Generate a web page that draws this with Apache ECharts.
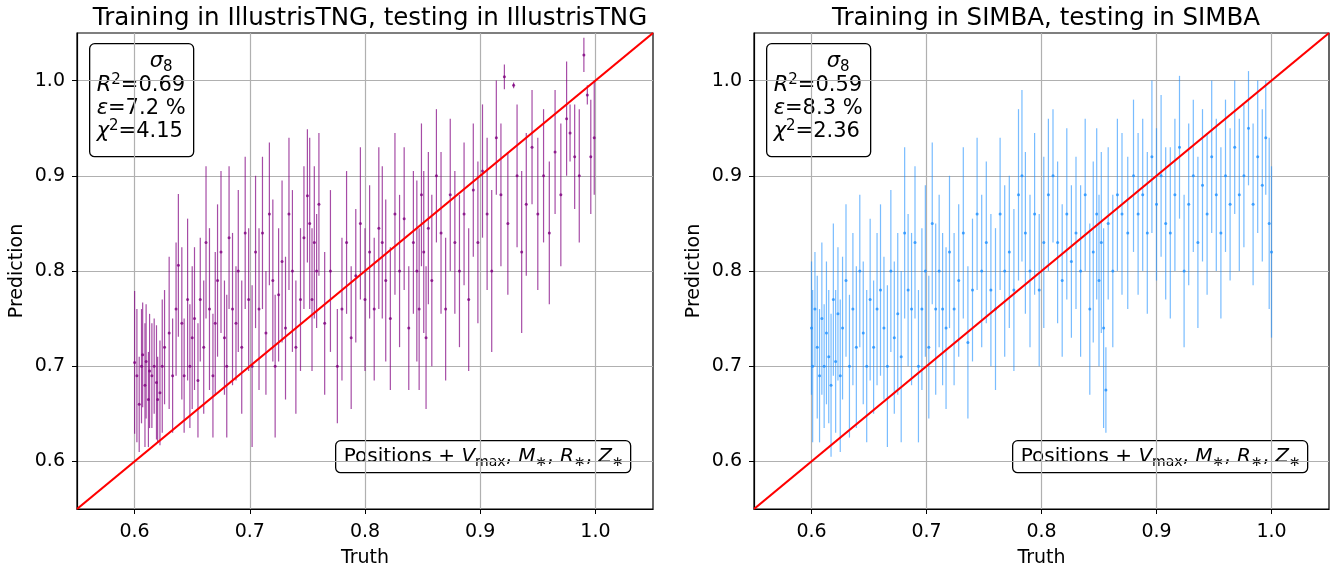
<!DOCTYPE html>
<html>
<head>
<meta charset="utf-8">
<script src="https://cdn.jsdelivr.net/npm/echarts@6/dist/echarts.min.js"></script>
<style>
  html, body { margin: 0; padding: 0; background: #fff; }
  #chart { width: 1340px; height: 568px; }
</style>
</head>
<body>
<div id="chart"></div>
<script>
  // IllustrisTNG: truth, prediction, 1-sigma error
  var tngTruth = [0.600,0.602,0.604,0.606,0.607,0.609,0.610,0.612,0.613,0.615,0.617,0.619,0.620,0.622,0.624,0.626,
    0.630,0.633,0.636,0.638,0.641,0.643,0.646,0.648,0.650,0.652,0.655,0.657,0.660,0.662,0.665,0.668,0.670,0.672,
    0.675,0.678,0.680,0.682,0.685,0.688,0.690,0.693,0.696,0.699,0.702,0.705,0.708,0.711,0.714,0.717,0.720,0.722,
    0.725,0.728,0.731,0.734,0.737,0.740,0.744,0.747,0.750,0.752,0.754,0.756,0.758,0.760,0.765,0.770,0.776,0.780,
    0.784,0.788,0.792,0.796,0.800,0.804,0.808,0.812,0.815,0.818,0.822,0.826,0.830,0.834,0.838,0.842,0.845,0.847,
    0.849,0.851,0.853,0.855,0.858,0.862,0.866,0.870,0.874,0.878,0.882,0.886,0.890,0.894,0.898,0.902,0.906,0.910,
    0.914,0.918,0.921,0.924,0.929,0.932,0.936,0.940,0.945,0.950,0.955,0.960,0.965,0.970,0.975,0.978,0.982,0.986,
    0.990,0.993,0.996,0.999]
  var tngPred = [0.704,0.690,0.660,0.700,0.712,0.680,0.705,0.665,0.695,0.690,0.700,0.683,0.665,0.672,0.700,0.720,
    0.735,0.690,0.760,0.806,0.745,0.690,0.770,0.700,0.730,0.750,0.685,0.770,0.720,0.830,0.760,0.690,0.745,0.790,
    0.820,0.730,0.700,0.835,0.760,0.745,0.800,0.720,0.840,0.770,0.700,0.820,0.760,0.840,0.735,0.860,0.790,0.700,
    0.775,0.810,0.740,0.860,0.800,0.720,0.770,0.835,0.879,0.850,0.770,0.830,0.800,0.870,0.745,0.800,0.700,0.760,
    0.830,0.730,0.795,0.850,0.770,0.820,0.760,0.845,0.830,0.790,0.750,0.860,0.800,0.855,0.740,0.830,0.800,0.760,
    0.880,0.820,0.730,0.845,0.790,0.900,0.840,0.760,0.880,0.830,0.800,0.860,0.770,0.885,0.830,0.905,0.860,0.800,
    0.940,0.880,1.004,0.850,0.995,0.900,0.820,0.870,0.930,0.860,0.900,0.840,0.925,0.880,0.960,0.945,0.920,0.900,
    1.027,0.985,0.920,0.940]
  var tngErr = [0.075,0.070,0.050,0.060,0.055,0.065,0.060,0.050,0.060,0.055,0.050,0.060,0.045,0.055,0.070,0.060,
    0.080,0.060,0.070,0.075,0.080,0.060,0.085,0.065,0.075,0.075,0.060,0.065,0.070,0.080,0.085,0.065,0.075,0.080,
    0.085,0.060,0.075,0.075,0.080,0.060,0.085,0.070,0.080,0.075,0.085,0.080,0.085,0.080,0.065,0.075,0.085,0.075,
    0.070,0.085,0.075,0.080,0.085,0.070,0.075,0.075,0.070,0.090,0.075,0.080,0.060,0.075,0.075,0.085,0.060,0.075,
    0.075,0.075,0.070,0.080,0.075,0.070,0.075,0.085,0.080,0.085,0.075,0.085,0.080,0.075,0.065,0.075,0.095,0.085,
    0.075,0.085,0.075,0.080,0.090,0.070,0.085,0.075,0.080,0.075,0.080,0.075,0.075,0.070,0.085,0.070,0.080,0.085,
    0.060,0.075,0.013,0.075,0.003,0.075,0.085,0.075,0.060,0.080,0.070,0.075,0.065,0.075,0.060,0.030,0.055,0.070,
    0.018,0.010,0.060,0.060]

  // SIMBA
  var simbaTruth = [0.600,0.601,0.603,0.605,0.607,0.609,0.611,0.613,0.615,0.617,0.619,0.621,0.623,0.625,0.627,0.630,
    0.633,0.636,0.639,0.642,0.645,0.648,0.651,0.654,0.657,0.660,0.663,0.666,0.669,0.672,0.675,0.678,0.681,0.684,
    0.687,0.690,0.693,0.696,0.699,0.702,0.705,0.708,0.711,0.714,0.717,0.720,0.724,0.728,0.732,0.736,0.740,0.744,
    0.748,0.752,0.756,0.760,0.764,0.768,0.772,0.776,0.780,0.783,0.786,0.790,0.794,0.798,0.802,0.806,0.810,0.814,
    0.818,0.822,0.826,0.830,0.834,0.838,0.842,0.845,0.848,0.850,0.852,0.854,0.856,0.858,0.862,0.866,0.870,0.875,
    0.880,0.884,0.888,0.892,0.896,0.900,0.904,0.908,0.912,0.916,0.920,0.924,0.928,0.932,0.936,0.940,0.944,0.948,
    0.952,0.956,0.960,0.964,0.968,0.972,0.976,0.980,0.984,0.988,0.992,0.995,0.998,1.000]
  var simbaPred = [0.740,0.700,0.760,0.720,0.690,0.750,0.700,0.735,0.710,0.680,0.770,0.705,0.755,0.690,0.740,0.790,
    0.700,0.760,0.720,0.800,0.735,0.700,0.770,0.720,0.760,0.780,0.740,0.700,0.800,0.730,0.755,0.710,0.840,0.780,
    0.760,0.830,0.700,0.760,0.800,0.720,0.850,0.760,0.800,0.760,0.740,0.820,0.760,0.790,0.840,0.725,0.780,0.860,
    0.800,0.830,0.780,0.760,0.860,0.800,0.820,0.780,0.880,0.900,0.840,0.800,0.860,0.780,0.830,0.880,0.900,0.830,
    0.790,0.860,0.810,0.840,0.800,0.880,0.760,0.820,0.860,0.790,0.830,0.740,0.675,0.850,0.800,0.880,0.860,0.840,
    0.900,0.860,0.880,0.840,0.920,0.870,0.900,0.850,0.840,0.880,0.930,0.800,0.870,0.900,0.830,0.890,0.860,0.920,
    0.880,0.840,0.900,0.870,0.930,0.880,0.900,0.950,0.870,0.920,0.890,0.940,0.850,0.820]
  var simbaErr = [0.070,0.080,0.060,0.075,0.070,0.080,0.065,0.075,0.070,0.075,0.080,0.075,0.070,0.080,0.075,0.080,
    0.075,0.080,0.085,0.080,0.075,0.080,0.085,0.070,0.080,0.090,0.075,0.085,0.085,0.080,0.085,0.090,0.090,0.080,
    0.080,0.080,0.080,0.085,0.090,0.075,0.085,0.090,0.080,0.080,0.085,0.080,0.080,0.080,0.090,0.080,0.075,0.080,
    0.080,0.085,0.080,0.085,0.080,0.090,0.080,0.085,0.090,0.090,0.085,0.080,0.085,0.080,0.090,0.080,0.070,0.085,
    0.080,0.090,0.080,0.080,0.090,0.080,0.090,0.095,0.090,0.090,0.095,0.105,0.045,0.080,0.080,0.080,0.085,0.080,
    0.080,0.085,0.080,0.085,0.080,0.080,0.085,0.080,0.090,0.080,0.075,0.080,0.085,0.080,0.090,0.080,0.085,0.080,
    0.080,0.090,0.080,0.080,0.070,0.080,0.075,0.060,0.085,0.080,0.080,0.060,0.090,0.090]

  var tickValues = [0.6, 0.7, 0.8, 0.9, 1.0]
  var diagonal = [[0.55, 0.55], [1.05, 1.05]]

  var FONT = 'DejaVu Sans'

  function barData(truth, pred, err) {
    var out = []
    for (var i = 0; i < truth.length; i++) {
      out.push([truth[i], pred[i] - err[i], pred[i] + err[i]])
    }
    return out
  }
  function pointData(truth, pred) {
    var out = []
    for (var i = 0; i < truth.length; i++) {
      out.push([truth[i], pred[i]])
    }
    return out
  }
  function errorSeries(idx, data, color) {
    return {
      type: 'custom',
      xAxisIndex: idx,
      yAxisIndex: idx,
      data: data,
      encode: {x: 0, y: [1, 2]},
      silent: true,
      z: 3,
      renderItem: function (params, api) {
        var p1 = api.coord([api.value(0), api.value(1)])
        var p2 = api.coord([api.value(0), api.value(2)])
        return {
          type: 'line',
          shape: {x1: p1[0], y1: p1[1], x2: p2[0], y2: p2[1]},
          style: {stroke: color, lineWidth: 1.2}
        }
      }
    }
  }
  function axisX(idx) {
    return {
      type: 'value', gridIndex: idx, min: 0.55, max: 1.05,
      name: 'Truth', nameLocation: 'middle', nameGap: 40,
      nameTextStyle: {fontFamily: FONT, fontSize: 19, color: '#000'},
      axisLine: {show: true, lineStyle: {color: '#000', width: 1.2}},
      axisTick: {show: true, length: 5, lineStyle: {color: '#000'}, customValues: tickValues},
      axisLabel: {fontFamily: FONT, fontSize: 19, color: '#000', margin: 14, customValues: tickValues,
        formatter: function (v) { return v.toFixed(1) }},
      splitLine: {show: true, lineStyle: {color: '#b0b0b0', width: 1.2}}
    }
  }
  function axisY(idx) {
    return {
      type: 'value', gridIndex: idx, min: 0.55, max: 1.05,
      name: 'Prediction', nameLocation: 'middle', nameGap: 50,
      nameTextStyle: {fontFamily: FONT, fontSize: 19, color: '#000'},
      axisLine: {show: true, lineStyle: {color: '#000', width: 1.2}},
      axisTick: {show: true, length: 5, lineStyle: {color: '#000'}, customValues: tickValues},
      axisLabel: {fontFamily: FONT, fontSize: 19, color: '#000', margin: 12, customValues: tickValues,
        formatter: function (v) { return v.toFixed(1) }},
      splitLine: {show: true, lineStyle: {color: '#b0b0b0', width: 1.2}}
    }
  }
  var rich = {
    n: {fontFamily: FONT, fontSize: 21, color: '#000', lineHeight: 26},
    it: {fontFamily: FONT, fontSize: 21, fontStyle: 'italic', color: '#000', lineHeight: 26},
    sup: {fontFamily: FONT, fontSize: 15, color: '#000', verticalAlign: 'top', lineHeight: 14},
    sub: {fontFamily: FONT, fontSize: 15, color: '#000', verticalAlign: 'bottom', lineHeight: 16},
    n2: {fontFamily: FONT, fontSize: 20, color: '#000', lineHeight: 26},
    it2: {fontFamily: FONT, fontSize: 20, fontStyle: 'italic', color: '#000', lineHeight: 26},
    sub2: {fontFamily: FONT, fontSize: 14, color: '#000', verticalAlign: 'bottom', lineHeight: 15}
  }
  function statsBox(x0, r2, eps, chi) {
    return {
      type: 'group', left: x0, top: 43,
      children: [
        {type: 'rect', shape: {x: 0, y: 0, width: 104, height: 113, r: 5},
          style: {fill: '#fff', stroke: '#000', lineWidth: 1.3}},
        {type: 'text', x: 60, y: 5, style: {text: '{it|σ}{sub|8}', rich: rich}},
        {type: 'text', x: 7, y: 29, style: {text: '{it|R}{sup|2}{n|=' + r2 + '}', rich: rich}},
        {type: 'text', x: 7, y: 52, style: {text: '{it|ε}{n|=' + eps + ' %}', rich: rich}},
        {type: 'text', x: 7, y: 75, style: {text: '{it|χ}{sup|2}{n|=' + chi + '}', rich: rich}}
      ]
    }
  }
  function featBox(x0) {
    return {
      type: 'group', left: x0, top: 440,
      children: [
        {type: 'rect', shape: {x: 0, y: 0, width: 295, height: 32, r: 5},
          style: {fill: '#fff', stroke: '#000', lineWidth: 1.3}},
        {type: 'text', x: 8, y: 3, style: {
          text: '{n2|Positions + }{it2|V}{sub2|max}{n2|, }{it2|M}{sub2|∗}{n2|, }{it2|R}{sub2|∗}{n2|, }{it2|Z}{sub2|∗}',
          rich: rich}}
      ]
    }
  }

  var chart = echarts.init(document.getElementById('chart'))
  chart.setOption({
    backgroundColor: '#fff',
    animation: false,
    title: [{
      text: 'Training in IllustrisTNG, testing in IllustrisTNG',
      left: 365, top: 1, textAlign: 'center',
      textStyle: {fontFamily: FONT, fontSize: 24.5, fontWeight: 'normal', color: '#000'}
    }, {
      text: 'Training in SIMBA, testing in SIMBA',
      left: 1041, top: 1, textAlign: 'center',
      textStyle: {fontFamily: FONT, fontSize: 24.5, fontWeight: 'normal', color: '#000'}
    }],
    grid: [
      {left: 77, top: 33, width: 576, height: 476, show: true, borderColor: '#000', borderWidth: 1.2,
        backgroundColor: 'transparent', containLabel: false, outerBoundsMode: 'none'},
      {left: 754, top: 33, width: 575, height: 476, show: true, borderColor: '#000', borderWidth: 1.2,
        backgroundColor: 'transparent', containLabel: false, outerBoundsMode: 'none'}
    ],
    xAxis: [axisX(0), axisX(1)],
    yAxis: [axisY(0), axisY(1)],
    series: [
      errorSeries(0, barData(tngTruth, tngPred, tngErr), 'rgba(128,0,128,0.7)'),
      {type: 'scatter', xAxisIndex: 0, yAxisIndex: 0, data: pointData(tngTruth, tngPred),
        symbolSize: 3, itemStyle: {color: '#800080'}, silent: true, z: 4},
      {type: 'line', xAxisIndex: 0, yAxisIndex: 0, data: diagonal, symbol: 'none',
        lineStyle: {color: '#ff0000', width: 2.2}, silent: true, z: 5},
      errorSeries(1, barData(simbaTruth, simbaPred, simbaErr), 'rgba(30,144,255,0.6)'),
      {type: 'scatter', xAxisIndex: 1, yAxisIndex: 1, data: pointData(simbaTruth, simbaPred),
        symbolSize: 3, itemStyle: {color: '#1e90ff'}, silent: true, z: 4},
      {type: 'line', xAxisIndex: 1, yAxisIndex: 1, data: diagonal, symbol: 'none',
        lineStyle: {color: '#ff0000', width: 2.2}, silent: true, z: 5}
    ],
    graphic: [
      statsBox(89, '0.69', '7.2', '4.15'),
      statsBox(766, '0.59', '8.3', '2.36'),
      featBox(335),
      featBox(1012)
    ]
  })
</script>
</body>
</html>
